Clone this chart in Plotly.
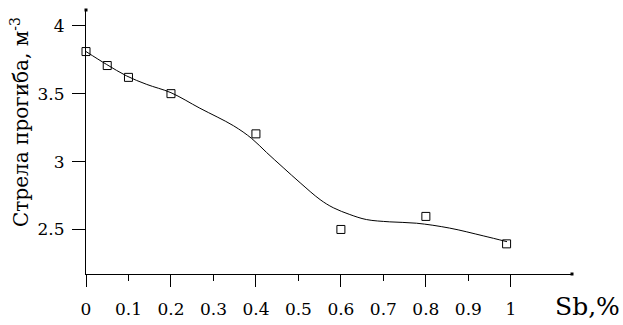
import plotly.graph_objects as go

# measured points
sb = [0, 0.05, 0.1, 0.2, 0.4, 0.6, 0.8, 0.99]
deflection = [3.81, 3.707, 3.62, 3.5, 3.204, 2.5, 2.596, 2.394]

# fitted curve
curve_x = [0, 0.048, 0.096, 0.143, 0.2, 0.268, 0.347, 0.39, 0.425, 0.464, 0.504,
           0.551, 0.582, 0.621, 0.66, 0.715, 0.778, 0.856, 0.935, 0.991]
curve_y = [3.81, 3.716, 3.63, 3.568, 3.507, 3.393, 3.264, 3.17, 3.067, 2.956, 2.844,
           2.72, 2.66, 2.61, 2.573, 2.556, 2.546, 2.51, 2.453, 2.41]

x_major = [0, 0.2, 0.4, 0.6, 0.8, 1]
x_minor = [0.1, 0.3, 0.5, 0.7, 0.9]
y_ticks = [2.5, 3, 3.5, 4]
y_title = "Стрела прогиба, м<sup>-3</sup>"
x_title = "Sb,%"

XR = [0, 1.144]
YR = [2.172, 4.116]
FONT = "DejaVu Serif"

fig = go.Figure()
fig.add_trace(go.Scatter(x=curve_x, y=curve_y, mode="lines",
                         line=dict(color="black", width=1, shape="spline", smoothing=1.0),
                         hoverinfo="skip", showlegend=False))
fig.add_trace(go.Scatter(x=sb, y=deflection, mode="markers",
                         marker=dict(symbol="square-open", size=8, color="black", line=dict(width=1, color="black")),
                         cliponaxis=False, showlegend=False))
# invisible trace to activate the overlay axis carrying the short ticks
fig.add_trace(go.Scatter(x=[x_minor[0]], y=[y_ticks[0]], xaxis="x2", mode="markers",
                         marker=dict(opacity=0), showlegend=False, hoverinfo="skip"))
# axis end dots
fig.add_trace(go.Scatter(x=[XR[1], XR[0]], y=[YR[0], YR[1]], mode="markers",
                         marker=dict(symbol="square", size=3, color="black"), cliponaxis=False,
                         showlegend=False, hoverinfo="skip"))

tick_common = dict(ticks="outside", tickwidth=1, tickcolor="black", showgrid=False, zeroline=False,
                   tickfont=dict(family=FONT, size=17, color="black"), automargin=False)

fig.update_layout(
    width=623, height=325,
    margin=dict(l=86, r=51, t=10, b=51),
    plot_bgcolor="white", paper_bgcolor="white",
    font=dict(family=FONT, color="black", size=17),
    xaxis=dict(range=XR, tickvals=x_major, ticktext=[f"{v:g}" for v in x_major], ticklen=12,
               showline=True, linecolor="black", linewidth=1, ticklabelstandoff=8, **tick_common),
    xaxis2=dict(range=XR, overlaying="x", anchor="y", side="bottom",
                tickvals=x_minor, ticktext=[f"{v:g}" for v in x_minor], ticklen=6,
                showline=False, ticklabelstandoff=14, **tick_common),
    yaxis=dict(range=YR, tickvals=y_ticks, ticktext=[f"{v:g}" for v in y_ticks], ticklen=13,
               showline=True, linecolor="black", linewidth=1, ticklabelstandoff=4, **tick_common),
    annotations=[
        dict(text=x_title, xref="paper", yref="paper", x=1.0, y=0, xshift=15, yshift=-32,
             xanchor="center", yanchor="middle", showarrow=False,
             font=dict(family=FONT, size=25, color="black")),
        dict(text=y_title, xref="paper", yref="paper", x=0, y=0.576, xshift=-66,
             xanchor="center", yanchor="middle", textangle=-90, showarrow=False,
             font=dict(family=FONT, size=20, color="black")),
    ],
)

fig.write_html("out.html")
